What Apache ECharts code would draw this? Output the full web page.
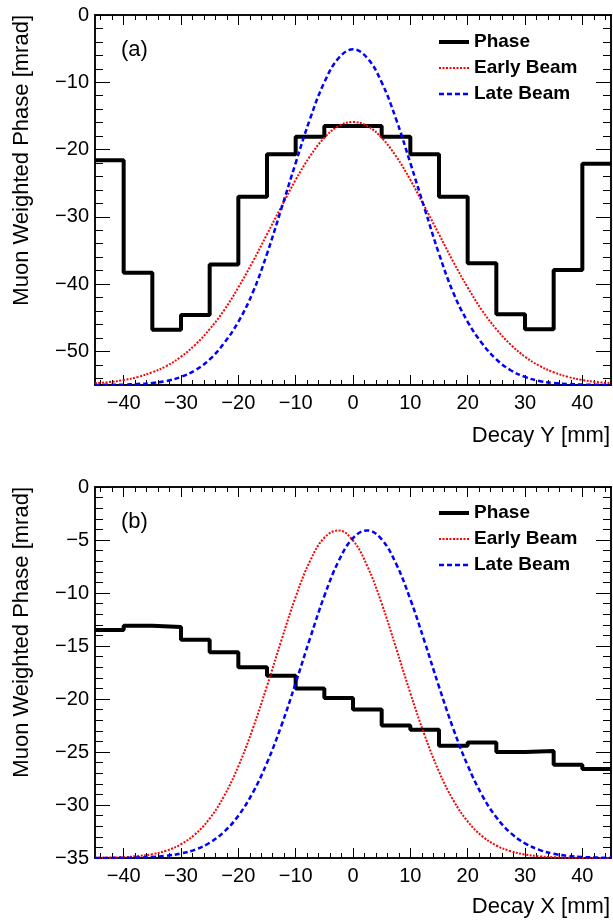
<!DOCTYPE html>
<html>
<head>
<meta charset="utf-8">
<script src="https://cdn.jsdelivr.net/npm/echarts@6.0.0/dist/echarts.min.js"></script>
<style>
html, body { margin: 0; padding: 0; background: #fff; }
#main { width: 613px; height: 920px; }
</style>
</head>
<body>
<div id="main"></div>
<script>
// histogram bins (low edges, 5 mm wide) and last upper edge
var binLow = [-45, -40, -35, -30, -25, -20, -15, -10, -5, 0, 5, 10, 15, 20, 25, 30, 35, 40];
var binHigh = 45;
var phaseY = [-21.6, -38.3, -46.8, -44.6, -37.1, -27.0, -20.7, -18.1, -16.5, -16.5, -18.1, -20.7, -27.0, -36.9, -44.5, -46.7, -37.9, -22.1];
var phaseX = [-13.5, -13.1, -13.2, -14.4, -15.6, -17.0, -17.8, -19.0, -19.9, -21.0, -22.5, -22.9, -24.4, -24.1, -25.0, -24.9, -26.2, -26.6];

// beam curves, read every 2.5 mm
var xs = [-45, -42.5, -40, -37.5, -35, -32.5, -30, -27.5, -25, -22.5, -20, -17.5, -15, -12.5, -10, -7.5, -5, -2.5, 0,
          2.5, 5, 7.5, 10, 12.5, 15, 17.5, 20, 22.5, 25, 27.5, 30, 32.5, 35, 37.5, 40, 42.5, 45];
var earlyY = [-54.74, -54.56, -54.26, -53.8, -53.1, -52.15, -50.8, -49.0, -46.7, -43.9, -40.5, -36.7, -32.6, -28.5, -24.5, -21.0, -18.25, -16.5, -15.9,
              -16.5, -18.25, -21.0, -24.5, -28.5, -32.6, -36.7, -40.5, -43.9, -46.7, -49.0, -50.8, -52.15, -53.1, -53.8, -54.26, -54.56, -54.74];
var lateY = [-55.0, -54.97, -54.93, -54.85, -54.7, -54.4, -53.8, -52.8, -51.2, -48.8, -45.6, -41.3, -35.5, -28.8, -22.0, -15.45, -10.0, -6.4, -5.1,
             -6.4, -10.0, -15.45, -22.0, -28.8, -35.5, -41.3, -45.6, -48.8, -51.2, -52.8, -53.8, -54.4, -54.7, -54.85, -54.93, -54.97, -55.0];
var earlyX = [-34.98, -34.96, -34.92, -34.82, -34.64, -34.30, -33.70, -32.74, -31.28, -29.17, -26.35, -22.83, -18.78, -14.48, -10.37, -6.99, -4.79, -4.1, -5.05,
              -7.47, -10.98, -15.16, -19.44, -23.43, -26.85, -29.56, -31.55, -32.93, -33.82, -34.36, -34.67, -34.84, -34.93, -34.97, -34.99, -35.0, -35.0];
var lateX = [-35.0, -34.99, -34.98, -34.95, -34.90, -34.79, -34.57, -34.20, -33.56, -32.54, -31.01, -28.86, -26.02, -22.52, -18.50, -14.29, -10.28, -6.98, -4.82,
             -4.1, -4.94, -7.22, -10.59, -14.61, -18.84, -22.82, -26.27, -29.06, -31.16, -32.64, -33.62, -34.23, -34.60, -34.80, -34.90, -34.96, -34.98];

// axis ticks
var xMajor = [-40, -30, -20, -10, 0, 10, 20, 30, 40];
var yTopMajor = [0, -10, -20, -30, -40, -50];
var yBotMajor = [0, -5, -10, -15, -20, -25, -30, -35];

var FONT = '"Liberation Sans", Arial, Helvetica, sans-serif';

function steps(from, to, step) {
  var out = [];
  for (var v = from; v <= to + 1e-9; v += step) out.push(+v.toFixed(3));
  return out;
}
function minus(v) { return String(v).replace('-', '\u2212'); }

function histData(edges, vals, last) {
  var d = edges.map(function (e, i) { return [e, vals[i]]; });
  d.push([last, vals[vals.length - 1]]);
  return d;
}
function curveData(x, y) {
  return x.map(function (v, i) { return [v, y[i]]; });
}

// four axes per side pair: labelled major, minor, opposite major, opposite minor
function makeAxes(dim, gridIndex, min, max, majors, minors, majLen, minLen) {
  var sides = dim === 'x' ? ['bottom', 'top'] : ['left', 'right'];
  var out = [];
  sides.forEach(function (pos, s) {
    [[majors, majLen], [minors, minLen]].forEach(function (t, k) {
      out.push({
        type: 'value', gridIndex: gridIndex, position: pos, min: min, max: max,
        axisLine: { show: true, onZero: false, lineStyle: { color: '#000', width: 1.5 } },
        axisTick: { show: true, inside: true, length: t[1], customValues: t[0], lineStyle: { color: '#000', width: 1 } },
        axisLabel: {
          show: s === 0 && k === 0, customValues: majors, formatter: minus,
          color: '#000', fontSize: 20, fontFamily: FONT, margin: dim === 'x' ? 8 : 6
        },
        splitLine: { show: false }
      });
    });
  });
  return out;
}

var xMinor = steps(-44, 44, 2);
var xAxes = makeAxes('x', 0, -45, 45, xMajor, xMinor, 10, 5)
  .concat(makeAxes('x', 1, -45, 45, xMajor, xMinor, 10, 5));
var yAxes = makeAxes('y', 0, -55, 0, yTopMajor, steps(-54, -2, 2), 15, 8)
  .concat(makeAxes('y', 1, -35, 0, yBotMajor, steps(-34, -1, 1), 15, 8));

var names = ['Phase', 'Early Beam', 'Late Beam'];
var styles = [
  { color: '#000000', width: 4, type: 'solid' },
  { color: '#ff0000', width: 2, type: [2, 1.5] },
  { color: '#0000ff', width: 2.5, type: [5, 3] }
];

function panelSeries(ax, phase, early, late) {
  var datas = [histData(binLow, phase, binHigh), curveData(xs, early), curveData(xs, late)];
  return datas.map(function (d, i) {
    var s = {
      type: 'line', name: names[i], xAxisIndex: ax, yAxisIndex: ax, data: d,
      symbol: 'none', showSymbol: false, lineStyle: styles[i], itemStyle: { color: styles[i].color },
      z: i === 0 ? 2 : 3
    };
    if (i === 0) s.step = 'end'; else s.smooth = 0.4;
    return s;
  });
}

function legendAt(top) {
  return {
    data: names, orient: 'vertical', left: 437, top: top, padding: 0,
    itemWidth: 30, itemHeight: 14, itemGap: 6,
    itemStyle: { opacity: 0 },
    lineStyle: { width: 'inherit' },
    textStyle: { fontSize: 19, fontWeight: 'bold', color: '#000', fontFamily: FONT, lineHeight: 20 }
  };
}

function label(text, x, y, opts) {
  var o = opts || {};
  return {
    type: 'text', x: x, y: y, rotation: o.rot || 0,
    style: { text: text, fill: '#000', font: '22px ' + FONT, align: o.align || 'left', verticalAlign: 'middle' }
  };
}

var chart = echarts.init(document.getElementById('main'), null, { renderer: 'canvas' });
chart.setOption({
  animation: false,
  backgroundColor: '#fff',
  grid: [
    { left: 95, top: 15, width: 516, height: 370 },
    { left: 95, top: 487, width: 516, height: 371 }
  ],
  xAxis: xAxes,
  yAxis: yAxes,
  legend: [legendAt(32), legendAt(503)],
  series: panelSeries(0, phaseY, earlyY, lateY).concat(panelSeries(4, phaseX, earlyX, lateX)),
  graphic: [
    label('(a)', 121, 50),
    label('(b)', 121, 522),
    label('Decay Y [mm]', 610, 436, { align: 'right' }),
    label('Decay X [mm]', 610, 907, { align: 'right' }),
    label('Muon Weighted Phase [mrad]', 22, 15, { align: 'right', rot: Math.PI / 2 }),
    label('Muon Weighted Phase [mrad]', 22, 487, { align: 'right', rot: Math.PI / 2 })
  ]
});
</script>
</body>
</html>
